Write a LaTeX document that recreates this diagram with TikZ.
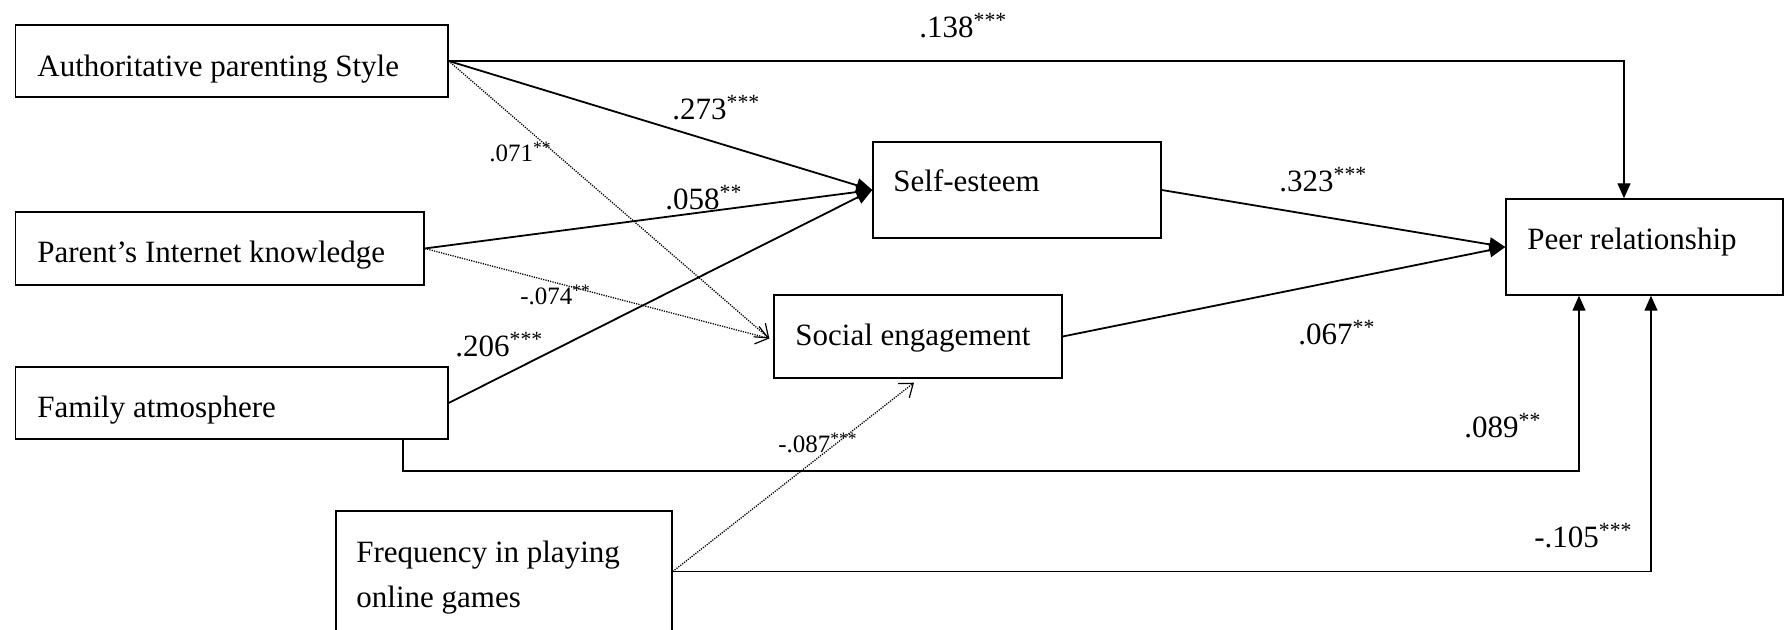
\documentclass[tikz,border=0pt]{standalone}
\usepackage{fontspec}
\setmainfont{Liberation Serif}
\usetikzlibrary{arrows.meta,fit,calc}
\begin{document}
\begin{tikzpicture}[x=0.5pt,y=-0.5pt,
  box/.style={draw,line width=0.7pt,inner sep=0pt},
  txt/.style={anchor=base west,inner sep=0pt,font=\fontsize{15.5}{18}\selectfont},
  big/.style={anchor=base west,inner sep=0pt,font=\fontsize{15.5}{18}\selectfont},
  small/.style={anchor=base west,inner sep=0pt,font=\fontsize{12.5}{15}\selectfont},
  thickarr/.style={line width=0.9pt,-{Triangle[length=8pt,width=7pt]}},
  thinarr/.style={line width=0.65pt,-{Triangle[length=7.5pt,width=6.5pt]}},
  dotarr/.style={line width=0.65pt,dash pattern=on 0.6pt off 0.6pt,-{Straight Barb[length=6pt,width=9pt,line width=0.6pt]}}
]
\useasboundingbox (0,0) rectangle (1785,630);
% boxes
\node[box,fit={(15.5,25) (448,97)}] (auth) {};
\node[box,fit={(15.5,212) (424,285)}] (par) {};
\node[box,fit={(15.5,367) (448,439)}] (fam) {};
\node[box,fit={(336,511) (672,632)}] (freq) {};
\node[box,fit={(873,142) (1161,238)}] (se) {};
\node[box,fit={(774,295) (1062,378)}] (soc) {};
\node[box,fit={(1506,199) (1783,295)}] (peer) {};
% box texts
\node[txt] (tauth) at (37,77) {Authoritative parenting Style};
\node[txt] (tpar) at (37,263) {Parent’s Internet knowledge};
\node[txt] (tfam) at (37,418) {Family atmosphere};
\node[txt] (tfreq1) at (356,563) {Frequency in playing};
\node[txt] (tfreq2) at (356,608) {online games};
\node[txt] (tse) at (893,192) {Self-esteem};
\node[txt] (tsoc) at (795,346) {Social engagement};
\node[txt] (tpeer) at (1527,250) {Peer relationship};
% helper coordinates
\coordinate (pa) at (1624,0);
\coordinate (pb) at (1651,0);
\coordinate (f1) at (403,471);
\coordinate (f2) at (1579,471);
% solid connectors
\draw[thickarr] (auth.east) -- (se.west);
\draw[thickarr] (par.east) -- (se.west);
\draw[thickarr] (fam.east) -- (se.west);
\draw[thickarr] (se.east) -- (peer.west);
\draw[thickarr] (soc.east) -- (peer.west);
\draw[thinarr] (auth.east) -| (pa |- peer.north);
\draw[thinarr] (fam.south -| f1) -- (f1) -- (f2) -- (f2 |- peer.south);
\draw[thinarr] (freq.east) -| (pb |- peer.south);
% dotted connectors
\draw[dotarr] (auth.east) -- ([xshift=-2pt,yshift=-1pt]soc.west);
\draw[dotarr] (par.east) -- ([xshift=-2pt,yshift=-1pt]soc.west);
\draw[dotarr] (freq.east) -- ([xshift=-2pt,yshift=-2pt]soc.south);
% labels
\node[big] (l138) at (919,38) {.138\textsuperscript{***}};
\node[big] (l273) at (672,120) {.273\textsuperscript{***}};
\node[big] (l058) at (665,210) {.058\textsuperscript{**}};
\node[big] (l206) at (455,357) {.206\textsuperscript{***}};
\node[big] (l323) at (1279,192) {.323\textsuperscript{***}};
\node[big] (l067) at (1298,345) {.067\textsuperscript{**}};
\node[big] (l089) at (1464,438) {.089\textsuperscript{**}};
\node[big] (l105) at (1534,548) {-.105\textsuperscript{***}};
\node[small] (l071) at (489,162) {.071\textsuperscript{**}};
\node[small] (l074) at (520,305) {-.074\textsuperscript{**}};
\node[small] (l087) at (778,453) {-.087\textsuperscript{***}};
\end{tikzpicture}
\end{document}
